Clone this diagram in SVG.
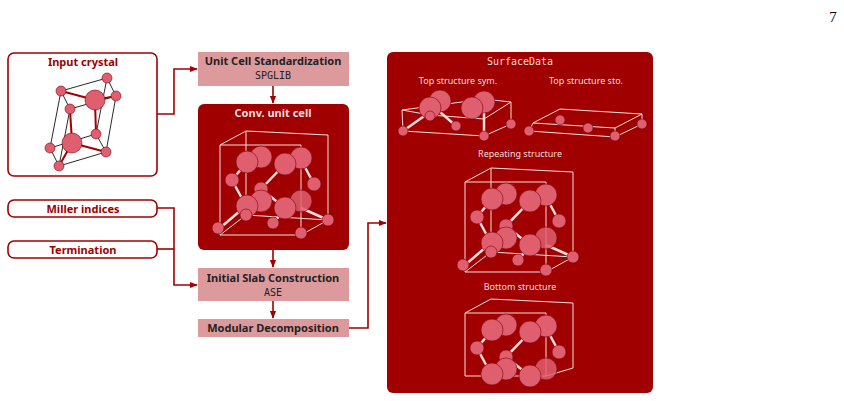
<svg xmlns="http://www.w3.org/2000/svg" width="844" height="401" viewBox="0 0 844 401">
<defs>
<style>
.t{font-family:"Noto Sans","DejaVu Sans",sans-serif;font-weight:bold;font-size:11px;text-anchor:middle}
.m{font-family:"DejaVu Sans Mono","Liberation Mono",monospace;font-size:10px;text-anchor:middle;fill:#222}
.w{font-family:"Noto Sans","DejaVu Sans",sans-serif;font-size:9px;text-anchor:middle;fill:#f3dede}
.a{fill:#df5f6e;stroke:#7a0010;stroke-width:0.6}
.aw{fill:#df5f6e;stroke:#8a0010;stroke-width:0.6;fill-opacity:0.95}
.fw{fill:none;stroke:#f2e0e0;stroke-width:1}
.bw{stroke:#f6dede;stroke-width:2.5}
.fb{fill:none;stroke:#111;stroke-width:0.9}
.br{stroke:#a00000;stroke-width:2}
.c{fill:none;stroke:#a00000;stroke-width:1.6}
</style>
<marker id="ar" viewBox="0 0 10 10" refX="9" refY="5" markerWidth="5" markerHeight="5" orient="auto"><path d="M0,1 L10,5 L0,9 z" fill="#a00000"/></marker>
<g id="cell">
<path class="fw" d="M0,0 L81,0 L81,90 L0,90 Z M26,-14 L108,-10 L108,75 L81,90 M0,0 L26,-14 M26,-14 L26,70 L0,90 M26,70 L108,75"/>
<g class="bw"><line x1="12" y1="35" x2="27" y2="17"/><line x1="41" y1="44" x2="65" y2="19"/><line x1="41" y1="44" x2="26" y2="61"/><line x1="41" y1="44" x2="65" y2="63"/><line x1="94" y1="39" x2="80" y2="13"/><line x1="12" y1="35" x2="26" y2="61"/><line x1="0" y1="83" x2="27" y2="60"/><line x1="53" y1="79" x2="65" y2="63"/><line x1="108" y1="75" x2="81" y2="63"/></g>
<circle class="a" cx="41" cy="12" r="11"/><circle class="a" cx="81" cy="13" r="11"/>
<circle class="a" cx="27" cy="17" r="11"/><circle class="a" cx="65" cy="19" r="11"/>
<circle class="a" cx="12" cy="35" r="7"/><circle class="a" cx="41" cy="44" r="7"/><circle class="a" cx="94" cy="39" r="7"/>
<circle class="a" cx="41" cy="56" r="11"/><circle class="a" cx="81" cy="56" r="11" fill-opacity="0.85"/>
<circle class="a" cx="27" cy="61" r="11"/><circle class="a" cx="65" cy="63" r="11"/>
<circle class="a" cx="-2" cy="83" r="6"/><circle class="a" cx="53" cy="78" r="6"/><circle class="a" cx="108" cy="75" r="6"/><circle class="a" cx="81" cy="88" r="6"/><circle class="a" cx="26" cy="70" r="6"/>
</g>
</defs>
<rect width="844" height="401" fill="#fff"/>
<text x="833" y="22" font-family="Liberation Serif,serif" font-size="15" text-anchor="middle">7</text>

<g id="connectors" class="c">
<path d="M157,114 H174 V69 H197" marker-end="url(#ar)"/>
<path d="M157,208 H174 V285 H197" marker-end="url(#ar)"/>
<path d="M157,249 H174"/>
<path d="M273,86 V103" marker-end="url(#ar)"/>
<path d="M273,250 V267" marker-end="url(#ar)"/>
<path d="M273,301 V318" marker-end="url(#ar)"/>
<path d="M349,328 H368 V223 H386" marker-end="url(#ar)"/>
</g>

<g id="input">
<rect x="8" y="53" width="149" height="123" rx="6" fill="#fff" stroke="#a00000" stroke-width="1.6"/>
<text class="t" x="83" y="66" fill="#a00000">Input crystal</text>
<path class="fb" d="M61,91 L107,78 L116,96 L70,109 Z M50,148 L96,134 L106,152 L59,166 Z M61,91 L50,148 M107,78 L96,134 M116,96 L106,152 M70,109 L59,166"/>
<g class="br"><line x1="61" y1="91" x2="95" y2="100"/><line x1="116" y1="96" x2="95" y2="100"/><line x1="95" y1="100" x2="96" y2="134"/><line x1="70" y1="109" x2="72" y2="143"/><line x1="72" y1="143" x2="106" y2="152"/><line x1="72" y1="143" x2="59" y2="166"/></g>
<circle class="a" cx="61" cy="91" r="5"/><circle class="a" cx="107" cy="78" r="5"/><circle class="a" cx="95" cy="100" r="10"/><circle class="a" cx="116" cy="96" r="5"/><circle class="a" cx="70" cy="109" r="5"/><circle class="a" cx="96" cy="134" r="5"/><circle class="a" cx="72" cy="143" r="10"/><circle class="a" cx="50" cy="148" r="5"/><circle class="a" cx="106" cy="152" r="5"/><circle class="a" cx="59" cy="166" r="5"/>
</g>

<g id="miller"><rect x="8" y="200" width="149" height="17" rx="6" fill="#fff" stroke="#a00000" stroke-width="1.6"/><text class="t" x="83" y="213" fill="#a00000">Miller indices</text></g>
<g id="termination"><rect x="8" y="241" width="149" height="17" rx="6" fill="#fff" stroke="#a00000" stroke-width="1.6"/><text class="t" x="83" y="254" fill="#a00000">Termination</text></g>

<g id="standardization"><rect x="198" y="52" width="151" height="34" fill="#dc9a9d"/><text class="t" x="273" y="65" fill="#222">Unit Cell Standardization</text><text class="m" x="273" y="79">SPGLIB</text></g>

<g id="conv">
<rect x="198" y="104" width="151" height="146" rx="6" fill="#a00000"/>
<text class="t" x="273" y="117" fill="#f3dede">Conv. unit cell</text>
<use href="#cell" transform="translate(220,145)"/>
</g>

<g id="slab"><rect x="198" y="268" width="151" height="33" fill="#dc9a9d"/><text class="t" x="273" y="282" fill="#222">Initial Slab Construction</text><text class="m" x="273" y="296">ASE</text></g>
<g id="modular"><rect x="198" y="319" width="151" height="18" fill="#dc9a9d"/><text class="t" x="273" y="332" fill="#222">Modular Decomposition</text></g>

<g id="surfacedata">
<rect x="387" y="52" width="266" height="341" rx="6" fill="#a00000"/>
<text x="520" y="65" font-family="DejaVu Sans Mono,monospace" font-size="10" text-anchor="middle" fill="#f3dede">SurfaceData</text>
<text class="w" x="458" y="84">Top structure sym.</text>
<text class="w" x="586" y="84">Top structure sto.</text>
<text class="w" x="520" y="157">Repeating structure</text>
<text class="w" x="520" y="290">Bottom structure</text>
<g id="topsym">
<path class="fw" d="M402,110 L484,99 L511,102 L511,124 L484,136 L403,131 Z M402,110 L430,115 L484,119 L511,102 M430,115 L430,99"/>
<g class="bw"><line x1="403" y1="131" x2="430" y2="112"/><line x1="456" y1="126" x2="440" y2="112"/><line x1="484" y1="136" x2="484" y2="110"/></g>
<circle class="a" cx="440" cy="101" r="11"/><circle class="a" cx="484" cy="102" r="11"/>
<circle class="a" cx="430" cy="108" r="11"/><circle class="a" cx="472" cy="108" r="11"/>
<circle class="a" cx="430" cy="116" r="5"/><circle class="a" cx="403" cy="131" r="5"/><circle class="a" cx="456" cy="126" r="5"/><circle class="a" cx="484" cy="136" r="5"/><circle class="a" cx="511" cy="124" r="5"/>
</g>
<g id="topsto">
<path class="fw" d="M533,123 L560,109 L642,114 L615,128 Z M529,131 L615,137 L642,124 M533,123 L529,131 M615,128 L615,137 M642,114 L642,124"/>
<circle class="a" cx="560" cy="120" r="5"/><circle class="a" cx="588" cy="128" r="5"/><circle class="a" cx="529" cy="131" r="5"/><circle class="a" cx="615" cy="136" r="5"/><circle class="a" cx="642" cy="124" r="5"/>
</g>
<use href="#cell" transform="translate(465,182)"/>
<g transform="translate(465,313)">
<path class="fw" d="M0,0 L81,0 L81,63 L0,63 Z M26,-14 L108,-10 L108,55 L81,63 M0,0 L26,-14"/>
<g class="bw"><line x1="12" y1="35" x2="27" y2="17"/><line x1="41" y1="44" x2="65" y2="19"/><line x1="41" y1="44" x2="65" y2="63"/><line x1="94" y1="39" x2="80" y2="13"/><line x1="12" y1="35" x2="26" y2="61"/></g>
<circle class="a" cx="41" cy="12" r="11"/><circle class="a" cx="81" cy="13" r="11"/>
<circle class="a" cx="27" cy="17" r="11"/><circle class="a" cx="65" cy="19" r="11"/>
<circle class="a" cx="12" cy="35" r="7"/><circle class="a" cx="41" cy="44" r="7"/><circle class="a" cx="94" cy="39" r="7"/>
<circle class="a" cx="41" cy="56" r="11"/><circle class="a" cx="81" cy="56" r="11" fill-opacity="0.85"/>
<circle class="a" cx="27" cy="61" r="11"/><circle class="a" cx="65" cy="63" r="11"/>
</g>
</g>
</svg>
